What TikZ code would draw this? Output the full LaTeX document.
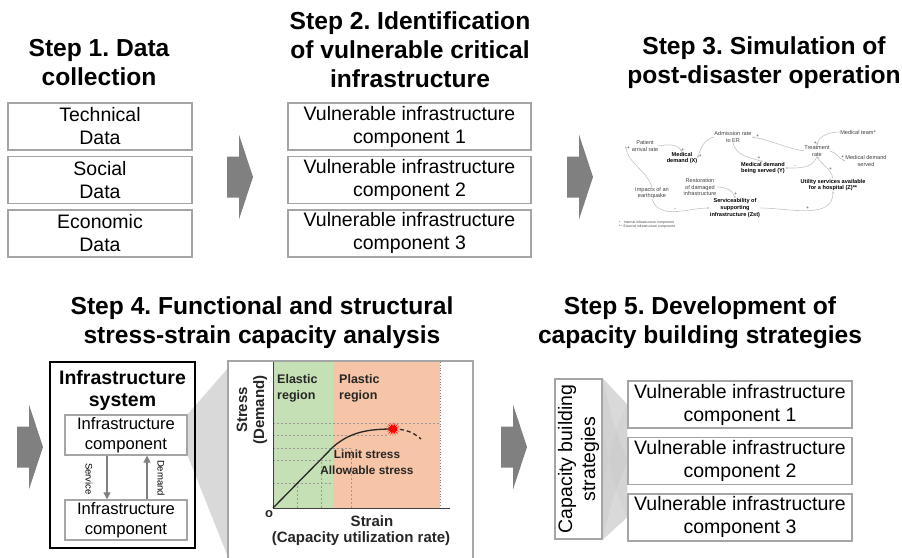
\documentclass[tikz,border=0pt]{standalone}
\usepackage{fontspec}
\setmainfont{Liberation Sans}
\usepackage{tikz}
\usetikzlibrary{arrows.meta,shapes.geometric,positioning}
\usepackage{xcolor}
\frenchspacing

\definecolor{boxgray}{RGB}{165,165,165}
\definecolor{arrgray}{RGB}{128,128,128}
\definecolor{fungray}{RGB}{217,217,217}
\definecolor{loopgray}{RGB}{195,195,195}
\definecolor{elastic}{RGB}{197,224,180}
\definecolor{plastic}{RGB}{246,196,166}

\newcommand{\fsz}[2]{\fontsize{#1}{#2}\selectfont}

\tikzset{blockarrow/.pic={
  \fill[arrgray] (-13,-20.5) -- (-1,-20.5) -- (-1,-42.5) -- (13,0)
    -- (-1,42.5) -- (-1,20.5) -- (-13,20.5) -- cycle;}}

\begin{document}
\begin{tikzpicture}[x=1pt,y=-1pt,every node/.style={inner sep=0pt}]
  \tikzstyle{Title}=[font=\fsz{24.6}{29}\bfseries, align=center]
  \tikzstyle{Item}=[draw=boxgray, line width=1.4pt, fill=white, align=center, font=\fsz{19.5}{23}]
  \tikzstyle{Comp}=[Item, font=\fsz{16.6}{19.5}, minimum width=122pt, minimum height=40pt]
  \tikzstyle{Flow}=[arrgray, line width=1.2pt, -{Triangle[length=7pt,width=7pt]}]
  \tikzstyle{GridLine}=[gray!80, line width=0.6pt, dash pattern=on 2pt off 2pt]
  \tikzstyle{Chart}=[font=\fsz{12.5}{16}\bfseries, text=black!85, align=left]
  \tikzstyle{Var}=[font=\fsz{5.6}{6.6}, align=center, text=black!75]
  \tikzstyle{Key}=[font=\fsz{5.6}{6.6}\bfseries, align=center]
  \tikzstyle{Link}=[draw=loopgray, line width=0.6pt, -{Stealth[length=2.5pt,width=2pt]}]
  \tikzstyle{Sign}=[font=\fsz{5}{5}, text=black!75, inner sep=0.6pt]

  \clip (0,0) rectangle (902,557);

  % step titles
  \node[Title] (t1) at (99,63) {Step 1. Data\\collection};
  \node[Title] (t2) at (410,50) {Step 2. Identification\\of vulnerable critical\\infrastructure};
  \node[Title] (t3) at (764,63) {Step 3. Simulation of\\post-disaster operation};
  \node[Title] (t4) at (262,323) {Step 4. Functional and structural\\stress-strain capacity analysis};
  \node[Title] (t5) at (700,323) {Step 5. Development of\\capacity building strategies};

  % step 1
  \node[Item, minimum width=184pt, minimum height=47pt] (tech) at (100,126.5) {Technical\\Data};
  \node[Item, minimum width=184pt, minimum height=47pt, below=5pt of tech] (soc) {Social\\Data};
  \node[Item, minimum width=184pt, minimum height=47pt, below=5pt of soc] (eco) {Economic\\Data};

  % step 2
  \node[Item, minimum width=243pt, minimum height=47pt] (v1) at (409.5,126.5) {Vulnerable infrastructure\\component 1};
  \node[Item, minimum width=243pt, minimum height=47pt, below=5pt of v1] (v2) {Vulnerable infrastructure\\component 2};
  \node[Item, minimum width=243pt, minimum height=47pt, below=5pt of v2] (v3) {Vulnerable infrastructure\\component 3};

  \pic at (240,177) {blockarrow};
  \pic at (580,177) {blockarrow};
  \pic at (30,447) {blockarrow};
  \pic at (514,447) {blockarrow};

  % step 3: causal loop
  \node[Var] (pat) at (645,146) {Patient\\arrival rate};
  \node[Key] (mdx) at (682,158) {Medical\\demand (X)};
  \node[Var] (adm) at (733,137) {Admission rate\\to ER};
  \node[Var] (team) at (858,132) {Medical team*};
  \node[Var] (treat) at (817,151) {Treatment\\rate};
  \node[Var] (served) at (866,161) {Medical demand\\served};
  \node[Key] (mdy) at (763,168) {Medical demand\\being served (Y)};
  \node[Key] (util) at (833,185) {Utility services available\\for a hospital (Z)**};
  \node[Var] (rest) at (700,187) {Restoration\\of damaged\\infrastructure};
  \node[Var] (quake) at (652,193) {Impacts of an\\earthquake};
  \node[Key] (serv) at (735,208) {Serviceability of\\supporting\\infrastructure (Zst)};
  \node[font=\fsz{3.4}{4.2}, anchor=west, align=left, text=black!75] (legend) at (619,225)
    {*\quad Internal infrastructure component\\**\ \ External infrastructure component};

  \draw[Link] (pat.east) to[out=10,in=120] node[Sign,pos=0.9,right]{+} (mdx.north);
  \draw[Link] (quake.north) to[out=110,in=-80] node[Sign,pos=0.97,right]{+} ([xshift=-6pt]pat.west);
  \draw[Link] (adm.west) to[out=190,in=70] node[Sign,pos=0.95,right]{+} (mdx.east);
  \draw[Link] (adm.south) to[out=-80,in=160] node[Sign,pos=0.9,above]{+} (mdy.north);
  \draw[Link] (treat.west) to[out=170,in=-10] node[Sign,pos=0.9,above]{+} (adm.east);
  \draw[Link] (team.west) to[out=180,in=80] node[Sign,pos=0.9,left]{+} (treat.north);
  \draw[Link] (treat.east) to[out=-10,in=160] node[Sign,pos=0.85,above]{+} (served.west);
  \draw[Link] (treat.south) to[out=-110,in=0] node[Sign,pos=0.75,above]{-} (mdy.east);
  \draw[Link] (util.north) to[out=100,in=-60] node[Sign,pos=0.4,right]{+} (treat.south);
  \draw[Link] (rest.east) to[out=0,in=100] node[Sign,pos=0.8,right]{+} (serv.north);
  \draw[Link] (quake.south) to[out=-70,in=180] node[Sign,pos=0.5,above]{-} (serv.west);
  \draw[Link] (serv.east) to[out=0,in=-90] node[Sign,pos=0.5,above]{+} (util.south);

  % step 4: system and capacity curve
  \node[Comp] (comp1) at (126,435) {Infrastructure\\component};
  \fill[fungray] (comp1.north east) -- (228,368) -- (228,557) -- (comp1.south east) -- cycle;
  \node[draw, line width=2pt, minimum width=145pt, minimum height=186pt] (sys) at (122.5,455) {};
  \node[font=\fsz{19.5}{22}\bfseries, align=center] (systitle) at (122.5,390) {Infrastructure\\system};
  \node[Comp] (comp1) at (126,435) {Infrastructure\\component};
  \node[Comp] (comp2) at (126,520) {Infrastructure\\component};
  \draw[Flow] ([xshift=-19pt]comp1.south) -- ([xshift=-19pt]comp2.north);
  \draw[Flow] ([xshift=21pt]comp2.north) -- ([xshift=21pt]comp1.south);
  \node[rotate=-90, font=\fsz{9.5}{10}] (srv) at (89,479) {Service};
  \node[rotate=-90, font=\fsz{9.5}{10}] (dem) at (161,478) {Demand};

  \draw[boxgray, line width=2pt, fill=white] (228,361) rectangle (473,575);
  \fill[elastic] (273,362) rectangle (333,508);
  \fill[plastic] (333,362) rectangle (440,508);
  \draw[gray, dotted, line width=0.8pt] (440,362) -- (440,508);
  \draw[GridLine] (273,423) -- (440,423);
  \draw[GridLine] (273,435) -- (387,435);
  \draw[GridLine] (273,448) -- (352,448);
  \draw[GridLine] (273,460) -- (333,460);
  \draw[GridLine] (273,483) -- (333,483);
  \draw[GridLine] (297,508) -- (297,483);
  \draw[GridLine] (321,508) -- (321,460);
  \draw[GridLine] (351,508) -- (351,448);
  \coordinate (o) at (273,508);
  \coordinate (yield) at (333,447);
  \coordinate (top) at (393,429);
  \coordinate (fall) at (421,439);
  \draw[line width=1pt, black!75] (273,362) -- (o) -- (450,508);
  \draw[line width=1.3pt, black!85] (o) -- (yield) .. controls (350,432) and (368,429) .. (top);
  \draw[line width=1.3pt, black!85, dash pattern=on 4pt off 3pt] (top) .. controls (405,429) and (413,432) .. (fall);
  \node[star, star points=16, star point ratio=2.4, fill=red, minimum size=14pt] (peak) at (top) {};
  \node[Chart, anchor=north west] (ela) at (277,374) {Elastic\\region};
  \node[Chart, anchor=north west] (pla) at (339,374) {Plastic\\region};
  \node[Chart, font=\fsz{11.8}{14}\bfseries] (lim) at (367,454) {Limit stress};
  \node[Chart, font=\fsz{11.8}{14}\bfseries] (alw) at (367,470) {Allowable stress};
  \node[Chart, font=\fsz{15}{17}\bfseries, rotate=90, align=center] (ylab) at (252,410) {Stress\\(Demand)};
  \node[Chart, font=\fsz{13}{14}\bfseries] (orig) at (269,514) {o};
  \node[Chart, font=\fsz{15}{17}\bfseries] (xlab) at (372,521) {Strain};
  \node[Chart, font=\fsz{15}{17}\bfseries] (xsub) at (361,539) {(Capacity utilization rate)};

  % step 5
  \node[Item, rotate=90, minimum width=160pt, minimum height=47pt] (cbs) at (578.5,459) {Capacity building\\strategies};
  \node[Item, minimum width=224pt, minimum height=47pt] (s1) at (740,404.5) {Vulnerable infrastructure\\component 1};
  \node[Item, minimum width=224pt, minimum height=47pt, below=8pt of s1] (s2) {Vulnerable infrastructure\\component 2};
  \node[Item, minimum width=224pt, minimum height=47pt, below=8pt of s2] (s3) {Vulnerable infrastructure\\component 3};
  \fill[fungray] (cbs.south east) -- (s1.west) -- (s3.west) -- (cbs.south west) -- cycle;
  \fill[gray!45, opacity=0.35] (cbs.south east) .. controls (612,420) .. (s2.west) .. controls (612,500) .. (cbs.south west) -- cycle;
  \fill[gray!45, opacity=0.25] ([yshift=-30pt]cbs.south) .. controls (615,430) .. (s1.west) -- (s3.west) .. controls (615,490) .. ([yshift=30pt]cbs.south) -- cycle;
  \node[Item, rotate=90, minimum width=160pt, minimum height=47pt] (cbs) at (578.5,459) {Capacity building\\strategies};
  \node[Item, minimum width=224pt, minimum height=47pt] (s1) at (740,404.5) {Vulnerable infrastructure\\component 1};
  \node[Item, minimum width=224pt, minimum height=47pt, below=8pt of s1] (s2) {Vulnerable infrastructure\\component 2};
  \node[Item, minimum width=224pt, minimum height=47pt, below=8pt of s2] (s3) {Vulnerable infrastructure\\component 3};
\end{tikzpicture}
\end{document}
